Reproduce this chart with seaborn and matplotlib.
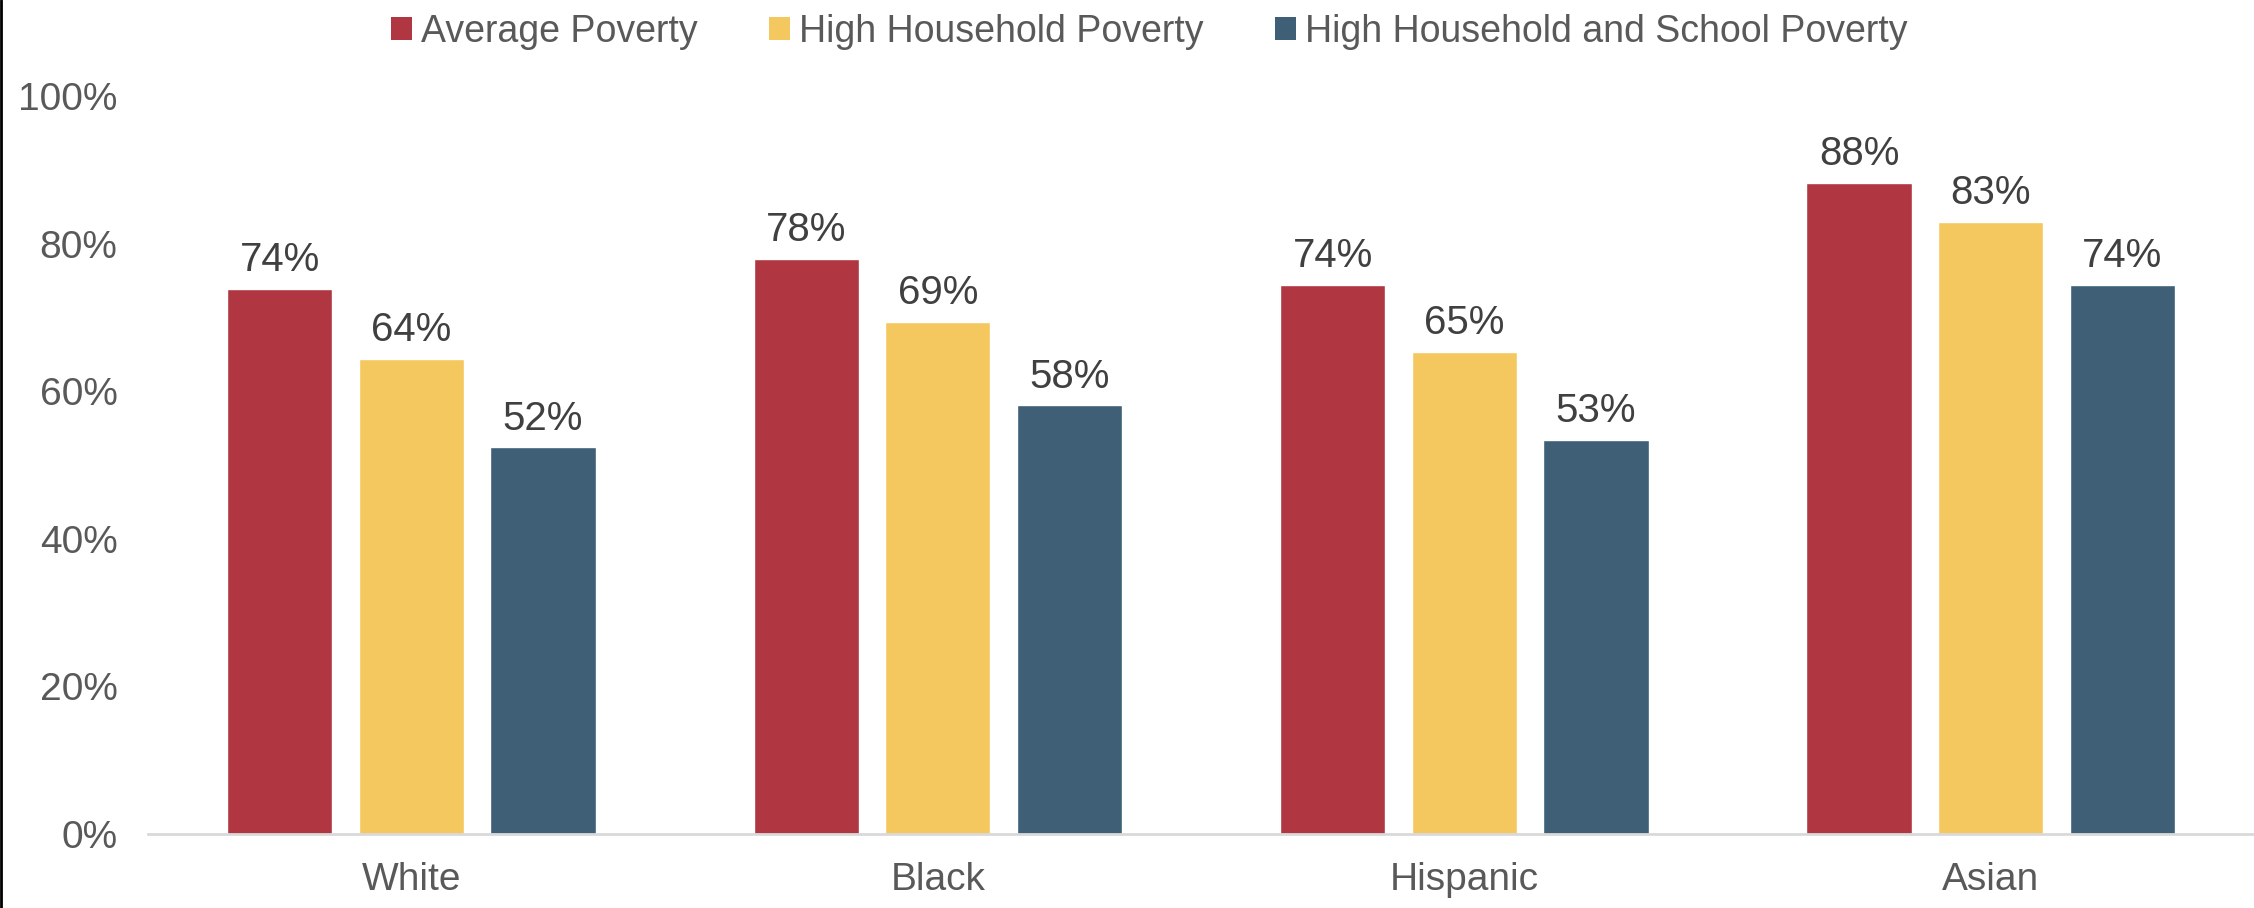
import pandas as pd
import seaborn as sns
import matplotlib.pyplot as plt
from matplotlib.patches import Patch
from matplotlib.lines import Line2D

groups = ["White", "Black", "Hispanic", "Asian"]
series = ["Average Poverty", "High Household Poverty", "High Household and School Poverty"]
average_poverty = [0.739, 0.780, 0.744, 0.883]
high_household = [0.644, 0.694, 0.654, 0.830]
household_and_school = [0.524, 0.581, 0.534, 0.744]
colors = ["#B03642", "#F5C85F", "#3E5F75"]

df = pd.DataFrame({
    "group": groups * 3,
    "series": [series[0]] * 4 + [series[1]] * 4 + [series[2]] * 4,
    "value": average_poverty + high_household + household_and_school,
})

sns.set_style("white")
plt.rcParams["font.family"] = ["Liberation Sans", "DejaVu Sans"]
text_gray = "#595959"

fig = plt.figure(figsize=(22.54, 9.08), dpi=100)
ax = fig.add_axes([0.0657, 0.0815, 0.9343, 0.8125])

sns.barplot(data=df, x="group", y="value", hue="series", order=groups,
            hue_order=series, palette=colors, width=0.75, gap=0.2,
            saturation=1, ax=ax, legend=False)

for c in ax.containers:
    ax.bar_label(c, labels=[f"{v * 100:.0f}%" for v in c.datavalues],
                 padding=7, fontsize=29, color="#404040")

ax.set_ylim(0, 1)
ax.set_xlim(-0.5, 3.5)
ax.set_yticks([0, 0.2, 0.4, 0.6, 0.8, 1.0])
ax.set_yticklabels(["0%", "20%", "40%", "60%", "80%", "100%"])
ax.tick_params(axis="both", length=0, labelsize=28, labelcolor=text_gray)
ax.tick_params(axis="y", pad=22)
ax.tick_params(axis="x", pad=20)
ax.set_xlabel("")
ax.set_ylabel("")
for s in ["top", "right", "left"]:
    ax.spines[s].set_visible(False)
ax.spines["bottom"].set_color("#D9D9D9")
ax.spines["bottom"].set_linewidth(2)

handles = [Patch(facecolor=col, edgecolor="none") for col in colors]
fig.legend(handles, series, loc="center", bbox_to_anchor=(0.51, 0.965),
           ncol=3, frameon=False, fontsize=27, labelcolor=text_gray,
           handlelength=0.55, handleheight=0.55, handletextpad=0.25,
           columnspacing=1.9)

fig.add_artist(Line2D([0.0005, 0.0005], [0, 1], color="black", linewidth=2,
                      transform=fig.transFigure))

fig.savefig("out.png", dpi=100)
